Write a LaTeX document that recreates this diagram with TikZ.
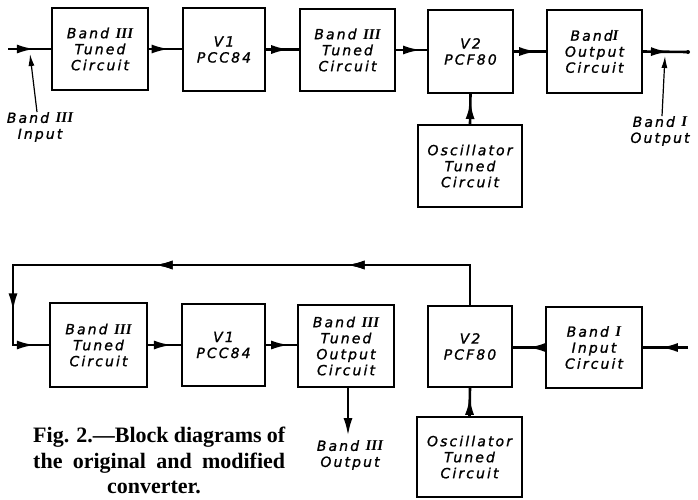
\documentclass[tikz,border=0pt]{standalone}
\usepackage{fontspec}
\setmainfont{DejaVu Sans}[LetterSpace=15,FakeBold=1.2]
\newfontfamily\rnfont{Liberation Serif}
\newfontfamily\capfont{Liberation Serif}
\usetikzlibrary{arrows.meta,decorations.markings}
\newcommand\rn[1]{{\rnfont\bfseries\itshape\fontsize{15}{16}\selectfont #1}}
\begin{document}
\begin{tikzpicture}[x=1pt,y=-1pt,
  box/.style={draw, line width=1.3pt, inner sep=0pt, align=center,
    font=\itshape\fontsize{14}{16}\selectfont},
  lbl/.style={align=center, inner sep=0pt, font=\itshape\fontsize{14}{16}\selectfont},
  conn/.style={line width=2.6pt},
  marr/.style={postaction={decorate}, decoration={markings,
    mark=at position #1 with {\arrow{Latex[length=18pt,width=9pt]}}}},
  lab/.style={line width=1.2pt, -{Latex[length=12pt,width=6pt]}},
  capline/.style={anchor=base west, inner sep=0pt,
    font=\capfont\bfseries\fontsize{22}{26}\selectfont}]
\useasboundingbox (0,0) rectangle (698,499);

% ---------- top diagram ----------
\node[box, minimum width=96pt, minimum height=82pt] (t1) at (100,49) {Band \rn{III}\\Tuned\\Circuit};
\node[box, minimum width=82pt, minimum height=83pt] (t2) at (224,49.5) {V1\\PCC84};
\node[box, minimum width=95pt, minimum height=82pt] (t3) at (347.5,50) {Band \rn{III}\\Tuned\\Circuit};
\node[box, minimum width=85pt, minimum height=83pt] (t4) at (470.5,51.5) {V2\\PCF80};
\node[box, minimum width=95pt, minimum height=83pt] (t5) at (594.5,51.5) {Band\rn{I}\\Output\\Circuit};
\node[box, minimum width=104pt, minimum height=82pt] (to) at (470,166) {Oscillator\\Tuned\\Circuit};

\coordinate (tin) at (8,49);
\coordinate (tout) at (688,52);
\draw[conn, marr=0.62] (tin) -- (tin -| t1.west);
\draw[conn, marr=0.62] (t1.east) -- (t1.east -| t2.west);
\draw[conn, marr=0.70] (t2.east) -- (t2.east -| t3.west);
\draw[conn, marr=0.80] (t3.east) -- (t3.east -| t4.west);
\draw[conn, marr=0.72] (t4.east) -- (t4.east -| t5.west);
\draw[conn, marr=0.58] (t5.east) -- (tout);
\fill (tout) circle (2pt);
\draw[conn, marr=0.76] (to.north) -- (t4.south);

\node[lbl] (lin) at (40,127) {Band \rn{III}\\Input};
\node[lbl] (lout) at (660,131) {Band \rn{I}\\Output};
\coordinate (pin) at (30,54);
\coordinate (pout) at (665,56);
\draw[lab] (lin.north) ++(-3,0) coordinate (lin0) (lin0) -- (pin);
\draw[lab] (lout.north) ++(2,0) coordinate (lout0) (lout0) -- (pout);

% ---------- bottom diagram ----------
\node[box, minimum width=97pt, minimum height=84pt] (b1) at (98.5,345) {Band \rn{III}\\Tuned\\Circuit};
\node[box, minimum width=83pt, minimum height=82pt] (b2) at (223.5,345) {V1\\PCC84};
\node[box, minimum width=96pt, minimum height=82pt] (b3) at (346,346) {Band \rn{III}\\Tuned\\Output\\Circuit};
\node[box, minimum width=84pt, minimum height=81pt] (b4) at (470,346.5) {V2\\PCF80};
\node[box, minimum width=96pt, minimum height=81pt] (b5) at (594,347.5) {Band \rn{I}\\Input\\Circuit};
\node[box, minimum width=105pt, minimum height=80pt] (bo) at (469.5,457) {Oscillator\\Tuned\\Circuit};

\coordinate (c1) at (470,265);
\coordinate (c2) at (13,265);
\coordinate (c3) at (13,345);
\draw[conn, line join=miter] (b4.north) -- (c1) -- (c2) -- (c3) -- (b1.west);
\draw[conn, marr=0.27, marr=0.69] (c1) -- (c2);
\draw[conn, marr=0.58] (c2) -- (c3);
\draw[conn, marr=0.60] (c3) -- (b1.west);

\draw[conn, marr=0.72] (b1.east) -- (b1.east -| b2.west);
\draw[conn, marr=0.74] (b2.east) -- (b2.east -| b3.west);
\draw[conn, marr=0.55] (b5.west) -- (b5.west -| b4.east);
\coordinate (bin) at (688,347.5);
\draw[conn, marr=0.62] (bin) -- (b5.east);
\draw[conn, marr=0.68] (bo.north) -- (b4.south);

\node[lbl] (bout) at (350,455) {Band \rn{III}\\Output};
\coordinate (b3s) at (348,387);
\draw[conn, -{Latex[length=18pt,width=9pt]}] (b3s) -- (348,436);

% ---------- caption ----------
\node[capline] (cap1) at (33,442) {\makebox[252pt][s]{Fig. 2.—Block diagrams of}};
\node[capline] (cap2) at (33,468) {\makebox[252pt][s]{the original and modified}};
\node[capline, anchor=base] (cap3) at (154,493) {converter.};
\end{tikzpicture}
\end{document}
